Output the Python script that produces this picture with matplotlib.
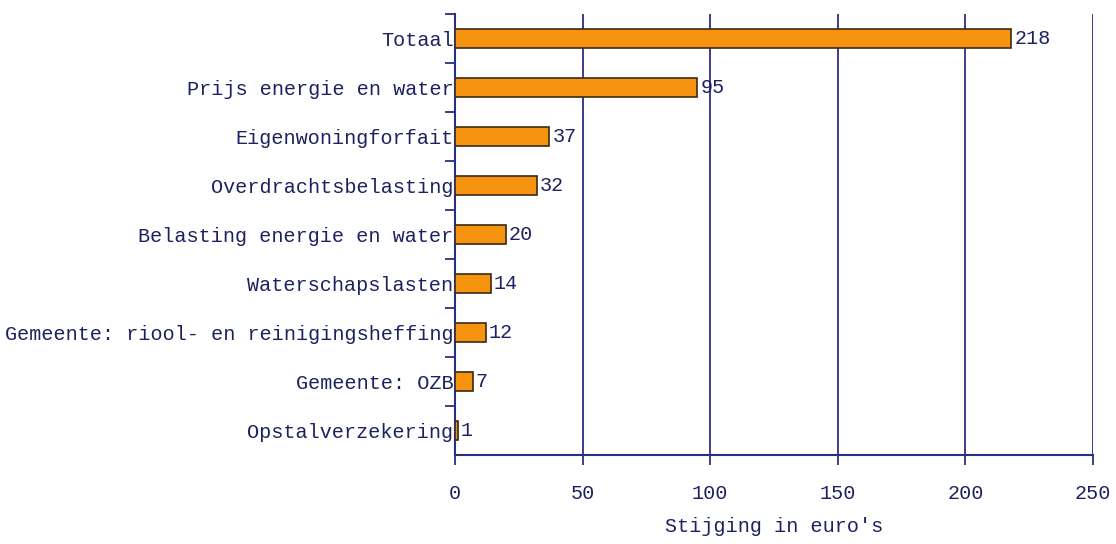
import matplotlib
matplotlib.use("Agg")
import matplotlib.pyplot as plt
import numpy as np

categories = ["Totaal", "Prijs energie en water", "Eigenwoningforfait",
              "Overdrachtsbelasting", "Belasting energie en water",
              "Waterschapslasten", "Gemeente: riool- en reinigingsheffing",
              "Gemeente: OZB", "Opstalverzekering"]
values = [218, 95, 37, 32, 20, 14, 12, 7, 1]
xticks = [0, 50, 100, 150, 200, 250]

navy = "#2a2f7f"
txt = "#1c2160"
orange = "#f7940f"

plt.rcParams['font.family'] = ['Liberation Mono', 'DejaVu Sans Mono']
fs = 14.5

fig = plt.figure(figsize=(11.16, 5.44), dpi=100)
ax = fig.add_axes([455/1116, 1-455/544, (1093-455)/1116, (455-14)/544])

y = np.arange(len(categories))
ax.barh(y, values, height=0.4, color=orange, edgecolor="#3b2a14", linewidth=1.2, zorder=3)
for yi, v in zip(y, values):
    ax.text(v + 1.2, yi, str(v), va="center", ha="left", fontsize=fs, color=txt)

ax.set_ylim(len(categories) - 0.5, -0.5)
ax.set_xlim(0, 250)
ax.set_xticks(xticks)
ax.set_xticklabels([str(t) for t in xticks], fontsize=fs, color=txt)
ax.set_yticks(y)
ax.set_yticklabels(categories, fontsize=fs, color=txt)
ax.set_yticks(np.arange(len(categories)) - 0.5, minor=True)
ax.tick_params(axis="y", which="major", length=0, pad=1)
ax.tick_params(axis="y", which="minor", length=7, width=1.3, color=navy, direction="out")
ax.tick_params(axis="x", length=7, width=1.3, color=navy, direction="out", pad=14)

for t in xticks[1:]:
    ax.axvline(t, color=navy, linewidth=1.3, zorder=1)

for s in ["top", "right"]:
    ax.spines[s].set_visible(False)
for s in ["left", "bottom"]:
    ax.spines[s].set_color(navy)
    ax.spines[s].set_linewidth(1.5)

ax.set_xlabel("Stijging in euro's", fontsize=fs, color=txt, labelpad=10)

fig.savefig("out.png", dpi=100)
